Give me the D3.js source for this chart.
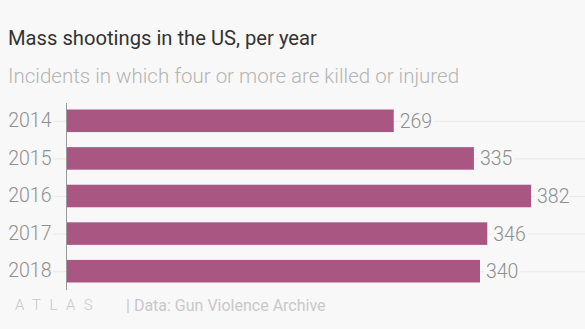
<!DOCTYPE html>
<html>
<head>
<meta charset="utf-8">
<script src="https://cdn.jsdelivr.net/npm/d3@7"></script>
<style>
body{margin:0;background:#f8f8f8;}
svg{display:block;font-family:Roboto, "Noto Sans", sans-serif;}
</style>
</head>
<body>
<svg id="chart" width="585" height="329"></svg>
<script>
const years = ["2014", "2015", "2016", "2017", "2018"];
const shootings = [269, 335, 382, 346, 340];

const width = 585;
const height = 329;
const margin = {top: 102, left: 67, right: 0, bottom: 40};

var svg = d3.select("#chart");

svg.append("rect")
	.attr("width", width)
	.attr("height", height)
	.attr("fill", "#f8f8f8");

//title and subtitle
svg.append("text")
	.attr("x", 8)
	.attr("y", 45)
	.style("font-size", "20.2px")
	.style("fill", "#333")
	.text("Mass shootings in the US, per year");
svg.append("text")
	.attr("x", 8)
	.attr("y", 83)
	.style("font-size", "20.5px")
	.style("font-weight", 300)
	.style("fill", "#b4b4b4")
	.text("Incidents in which four or more are killed or injured");

var x = d3.scaleLinear()
	.domain([0, 382])
	.range([margin.left, 531]);

var y = d3.scaleBand()
	.domain(years)
	.range([margin.top, 290])
	.paddingInner(0.4)
	.paddingOuter(0.2);

//gridlines at each band center
svg.selectAll(".grid")
	.data(years)
	.enter()
	.append("line")
		.attr("class", "grid")
		.attr("x1", 53)
		.attr("x2", width)
		.attr("y1", d => y(d) + y.bandwidth() / 2 + 0.5)
		.attr("y2", d => y(d) + y.bandwidth() / 2 + 0.5)
		.attr("stroke", "#e8e8e8")
		.attr("stroke-width", 1);

//bars
svg.selectAll(".bar")
	.data(shootings)
	.enter()
	.append("rect")
		.attr("class", "bar")
		.attr("x", x(0))
		.attr("y", (d, i) => y(years[i]))
		.attr("width", d => x(d) - x(0))
		.attr("height", y.bandwidth())
		.attr("fill", "#a95683");

//value labels, stroke hides gridline behind text
svg.selectAll(".valueLabel")
	.data(shootings)
	.enter()
	.append("text")
		.attr("class", "valueLabel")
		.attr("x", d => x(d) + 6)
		.attr("y", (d, i) => y(years[i]) + y.bandwidth() / 2)
		.attr("dy", "0.36em")
		.style("font-size", "19.5px")
		.style("font-weight", 300)
		.style("fill", "#8f8f8f")
		.style("paint-order", "stroke")
		.style("stroke", "#f8f8f8")
		.style("stroke-width", 6)
		.text(d => d);

//y axis
var yAxis = d3.axisLeft(y).tickSize(0).tickPadding(15);
var g = svg.append("g")
	.attr("transform", "translate(" + (margin.left - 0.5) + ",0)")
	.call(yAxis);
g.select(".domain").remove();
g.selectAll("text")
	.style("font-family", "Roboto, sans-serif")
	.style("font-size", "19.5px")
	.style("font-weight", 300)
	.style("fill", "#8f8f8f");

svg.append("line")
	.attr("x1", margin.left - 0.5)
	.attr("x2", margin.left - 0.5)
	.attr("y1", 103)
	.attr("y2", 290)
	.attr("stroke", "#999")
	.attr("stroke-width", 1);

//footer
svg.append("text")
	.attr("x", 15)
	.attr("y", 310)
	.style("font-size", "15px")
	.style("font-weight", 300)
	.style("letter-spacing", "8.5px")
	.style("fill", "#c8c8c8")
	.text("ATLAS");
svg.append("text")
	.attr("x", 126)
	.attr("y", 311)
	.style("font-size", "16px")
	.style("fill", "#c8c8c8")
	.text("| Data: Gun Violence Archive");
</script>
</body>
</html>
